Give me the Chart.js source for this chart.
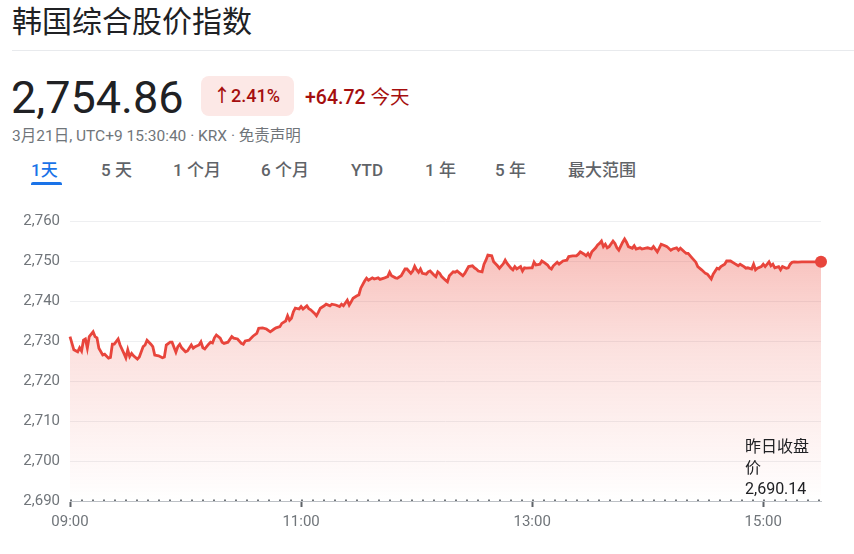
<!DOCTYPE html>
<html lang="zh-CN">
<head>
<meta charset="utf-8">
<title>韩国综合股价指数</title>
<script src="https://cdn.jsdelivr.net/npm/chart.js@4.4.1/dist/chart.umd.min.js"></script>
<style>
    html, body {
        margin: 0;
        padding: 0;
        background: #fff;
        width: 854px;
        height: 554px;
        overflow: hidden;
        font-family: Roboto, "Noto Sans CJK SC", sans-serif;
    }
    .abs { position: absolute; white-space: nowrap; }
    .title { left: 12px; top: 4px; font-size: 30px; line-height: 30px; color: #202124; font-family: "Noto Sans CJK SC", sans-serif; }
    .sep { left: 12px; top: 50px; width: 842px; height: 1px; background: #e8eaed; }
    .price { left: 11px; top: 75px; font-size: 45px; line-height: 45px; color: #202124; }
    .badge { left: 201px; top: 76px; width: 93px; height: 40px; border-radius: 8px; background: #fce8e6; }
    .badge-text { left: 213px; top: 85px; font-size: 18px; line-height: 22px; color: #a50e0e; font-weight: 500; }
    .change { left: 305px; top: 85px; font-size: 19.5px; line-height: 22px; color: #a50e0e; font-weight: 500; }
    .change span { font-weight: 400; font-family: "Noto Sans CJK SC", sans-serif; }
    .sub { left: 12px; top: 127px; font-size: 15.5px; line-height: 18px; color: #70757a; }
    .tab { top: 160px; font-size: 17px; line-height: 20px; color: #5f6368; font-weight: 500; }
    .tab.active { color: #1a73e8; }
    .underline { left: 31px; top: 182px; width: 31px; height: 3px; background: #1a73e8; border-radius: 2px 2px 0 0; }
    .note { left: 745px; top: 436px; font-size: 16px; line-height: 21px; color: #202124; }
    #chart { position: absolute; left: 0; top: 200px; }
</style>
</head>
<body>
<div class="abs title">韩国综合股价指数</div>
<div class="abs sep"></div>
<div class="abs price">2,754.86</div>
<div class="abs badge"></div>
<div class="abs badge-text">↑2.41%</div>
<div class="abs change">+64.72 <span>今天</span></div>
<div class="abs sub">3月21日, UTC+9 15:30:40 · KRX · 免责声明</div>

<div class="abs tab active" style="left:31px">1天</div>
<div class="abs tab" style="left:101px">5 天</div>
<div class="abs tab" style="left:173px">1 个月</div>
<div class="abs tab" style="left:261px">6 个月</div>
<div class="abs tab" style="left:351px">YTD</div>
<div class="abs tab" style="left:425px">1 年</div>
<div class="abs tab" style="left:495px">5 年</div>
<div class="abs tab" style="left:568px">最大范围</div>
<div class="abs underline"></div>

<canvas id="chart" width="854" height="341"></canvas>
<div class="abs note">昨日收盘<br>价<br>2,690.14</div>

<script>
// минуты от 09:00 и значения индекса
const minutes = [
    0, 2, 4, 5, 6, 7, 8, 9, 10, 12, 13, 14, 15, 17, 18, 20, 21, 22, 23, 25,
    26, 28, 29, 30, 31, 32, 33, 35, 36, 38, 39, 40, 42, 43, 44, 46, 48, 49, 50, 52,
    53, 55, 56, 57, 58, 60, 61, 63, 64, 65, 67, 68, 69, 70, 72, 73, 74, 75, 76, 78,
    79, 80, 82, 84, 85, 87, 89, 90, 91, 93, 95, 97, 98, 100, 102, 104, 106, 107, 109, 110,
    112, 113, 114, 115, 116, 117, 119, 120, 121, 123, 124, 125, 127, 128, 129, 130, 132, 133, 135, 136,
    138, 140, 141, 142, 144, 145, 146, 147, 149, 150, 151, 153, 154, 155, 157, 158, 160, 161, 163, 165,
    166, 167, 169, 170, 172, 174, 175, 177, 178, 179, 180, 181, 182, 183, 185, 186, 187, 189, 190, 191,
    192, 193, 195, 196, 197, 199, 200, 201, 203, 204, 205, 207, 209, 210, 211, 212, 214, 215, 216, 217,
    219, 220, 222, 223, 225, 226, 227, 229, 230, 231, 232, 234, 235, 236, 237, 239, 240, 241, 242, 244,
    245, 246, 248, 249, 250, 251, 253, 254, 256, 258, 259, 261, 263, 264, 265, 267, 268, 269, 270, 271,
    273, 274, 275, 276, 277, 278, 279, 280, 282, 283, 284, 285, 287, 288, 289, 290, 292, 293, 294, 296,
    297, 299, 300, 302, 303, 305, 306, 307, 309, 310, 312, 313, 315, 316, 317, 319, 320, 321, 323, 325,
    326, 328, 330, 331, 333, 334, 336, 337, 338, 340, 341, 343, 345, 347, 348, 350, 351, 352, 354, 355,
    356, 357, 359, 360, 361, 363, 364, 365, 366, 368, 369, 370, 372, 373, 374, 375, 376, 378, 380, 382,
    385, 390
];
const values = [
    2731.1, 2727.8, 2727.3, 2728.3, 2727.5, 2730.2, 2730.5, 2728.2, 2731.1, 2732.3, 2731.1, 2730.8, 2728.2, 2726.5, 2726.7, 2725.7, 2725.9, 2729.2, 2729.2, 2730.5,
    2729.0, 2726.9, 2725.8, 2727.8, 2726.1, 2726.9, 2726.3, 2725.5, 2726.0, 2728.6, 2729.0, 2730.2, 2729.2, 2728.6, 2726.5, 2726.3, 2725.8, 2726.0, 2729.0, 2729.7,
    2729.7, 2727.2, 2728.6, 2729.2, 2728.3, 2727.3, 2727.5, 2729.0, 2728.2, 2728.6, 2729.0, 2729.8, 2728.3, 2728.0, 2729.2, 2729.7, 2729.5, 2730.8, 2731.5, 2730.7,
    2729.7, 2729.4, 2729.7, 2731.1, 2730.7, 2730.5, 2729.4, 2729.2, 2730.0, 2730.2, 2731.2, 2731.9, 2733.2, 2733.3, 2733.0, 2732.3, 2733.0, 2733.3, 2733.6, 2734.4,
    2735.0, 2736.3, 2735.2, 2735.7, 2737.3, 2738.2, 2738.0, 2738.6, 2738.0, 2738.8, 2738.1, 2737.8, 2736.9, 2736.3, 2737.2, 2738.2, 2738.8, 2739.2, 2738.8, 2739.2,
    2739.0, 2738.6, 2739.2, 2738.8, 2740.2, 2739.0, 2739.8, 2740.7, 2741.3, 2741.5, 2743.2, 2745.0, 2745.7, 2745.2, 2745.8, 2745.5, 2745.8, 2745.4, 2745.7, 2746.1,
    2747.2, 2746.3, 2745.8, 2745.7, 2746.3, 2748.0, 2748.0, 2746.9, 2747.5, 2748.7, 2747.8, 2747.2, 2748.0, 2746.9, 2746.7, 2747.3, 2747.5, 2746.5, 2746.1, 2747.3,
    2746.9, 2746.1, 2745.2, 2744.8, 2746.3, 2747.3, 2747.2, 2747.5, 2746.7, 2746.3, 2746.9, 2748.6, 2748.8, 2748.3, 2748.0, 2747.5, 2747.3, 2749.2, 2750.2, 2751.5,
    2751.3, 2749.8, 2748.8, 2748.2, 2749.3, 2750.2, 2749.4, 2748.2, 2747.8, 2748.6, 2748.0, 2748.6, 2747.5, 2748.3, 2748.2, 2748.3, 2748.3, 2749.7, 2749.0, 2749.2,
    2750.0, 2749.7, 2749.0, 2748.3, 2748.0, 2748.8, 2749.7, 2749.2, 2750.0, 2750.2, 2751.1, 2751.3, 2751.3, 2751.7, 2752.3, 2751.7, 2751.3, 2751.9, 2751.1, 2752.3,
    2753.3, 2754.0, 2754.4, 2755.0, 2753.6, 2754.2, 2753.3, 2753.6, 2755.0, 2754.4, 2753.3, 2752.7, 2754.7, 2755.5, 2754.7, 2753.6, 2753.2, 2753.8, 2753.0, 2753.3,
    2753.0, 2753.2, 2753.3, 2753.0, 2753.6, 2752.3, 2753.2, 2754.2, 2753.8, 2753.6, 2752.7, 2753.0, 2753.3, 2752.7, 2753.2, 2752.3, 2751.9, 2751.9, 2750.8, 2749.7,
    2748.6, 2747.8, 2746.9, 2746.7, 2745.5, 2746.7, 2748.2, 2748.0, 2748.6, 2749.2, 2750.0, 2750.0, 2749.4, 2748.8, 2749.2, 2748.6, 2748.2, 2748.3, 2748.0, 2749.2,
    2747.8, 2748.2, 2748.6, 2749.2, 2748.6, 2749.8, 2748.8, 2749.2, 2748.3, 2748.6, 2747.8, 2748.6, 2748.2, 2748.3, 2749.2, 2749.7, 2749.8, 2749.7, 2749.8, 2749.8,
    2749.8, 2749.8
];

const prevClose = 2690.14;
const sessionLength = 390; // 09:00 - 15:30
const hourTicks = [0, 120, 240, 360];
const hourLabels = ['09:00', '11:00', '13:00', '15:00'];
const yMin = 2690;
const yMax = 2760;
const yStep = 10;

const lineColor = '#e8453c';

function fillGradient(context) {
    const area = context.chart.chartArea;
    if (!area) return 'rgba(234,67,53,0.3)';
    const g = context.chart.ctx.createLinearGradient(0, area.top, 0, area.bottom);
    g.addColorStop(0, 'rgba(234,67,53,0.38)');
    g.addColorStop(0.45, 'rgba(234,67,53,0.16)');
    g.addColorStop(1, 'rgba(234,67,53,0.0)');
    return g;
}

const points = minutes.map((m, i) => ({ x: m, y: values[i] }));
const lastIndex = points.length - 1;

new Chart(document.getElementById('chart'), {
    type: 'line',
    data: {
        datasets: [
            {
                data: points,
                borderColor: lineColor,
                borderWidth: 2.8,
                backgroundColor: fillGradient,
                fill: 'start',
                tension: 0,
                clip: 10,
                pointRadius: ctx => (ctx.dataIndex === lastIndex ? 6 : 0),
                pointBackgroundColor: lineColor,
                pointBorderColor: lineColor,
                pointBorderWidth: 0
            },
            {
                // линия вчерашнего закрытия
                data: [{ x: 0, y: prevClose }, { x: sessionLength, y: prevClose }],
                borderColor: '#70757a',
                borderWidth: 2,
                borderDash: [2, 9],
                pointRadius: 0,
                fill: false
            }
        ]
    },
    options: {
        responsive: false,
        animation: false,
        layout: { padding: { top: 21, right: 33, left: 0, bottom: 0 } },
        plugins: {
            legend: { display: false },
            tooltip: { enabled: false }
        },
        scales: {
            x: {
                type: 'linear',
                min: 0,
                max: sessionLength,
                afterBuildTicks: scale => {
                    scale.ticks = hourTicks.map(v => ({ value: v }));
                },
                afterFit: scale => { scale.height = 40; },
                ticks: {
                    autoSkip: false,
                    maxRotation: 0,
                    padding: 6,
                    color: '#70757a',
                    font: { family: 'Roboto', size: 15 },
                    callback: v => hourLabels[hourTicks.indexOf(v)]
                },
                grid: {
                    drawOnChartArea: false,
                    drawTicks: true,
                    tickLength: 6,
                    tickWidth: 2,
                    tickColor: '#5f6368'
                },
                border: { display: true, color: '#bdc1c6', width: 1 }
            },
            y: {
                min: yMin,
                max: yMax,
                afterFit: scale => { scale.width = 70; },
                ticks: {
                    stepSize: yStep,
                    padding: 10,
                    color: '#70757a',
                    font: { family: 'Roboto', size: 15 },
                    callback: v => v.toLocaleString('en-US')
                },
                grid: {
                    drawTicks: false,
                    color: ctx => (ctx.tick && ctx.tick.value === yMin ? 'rgba(0,0,0,0)' : '#eeeff1'),
                    lineWidth: 1
                },
                border: { display: false }
            }
        }
    }
});
</script>
</body>
</html>
